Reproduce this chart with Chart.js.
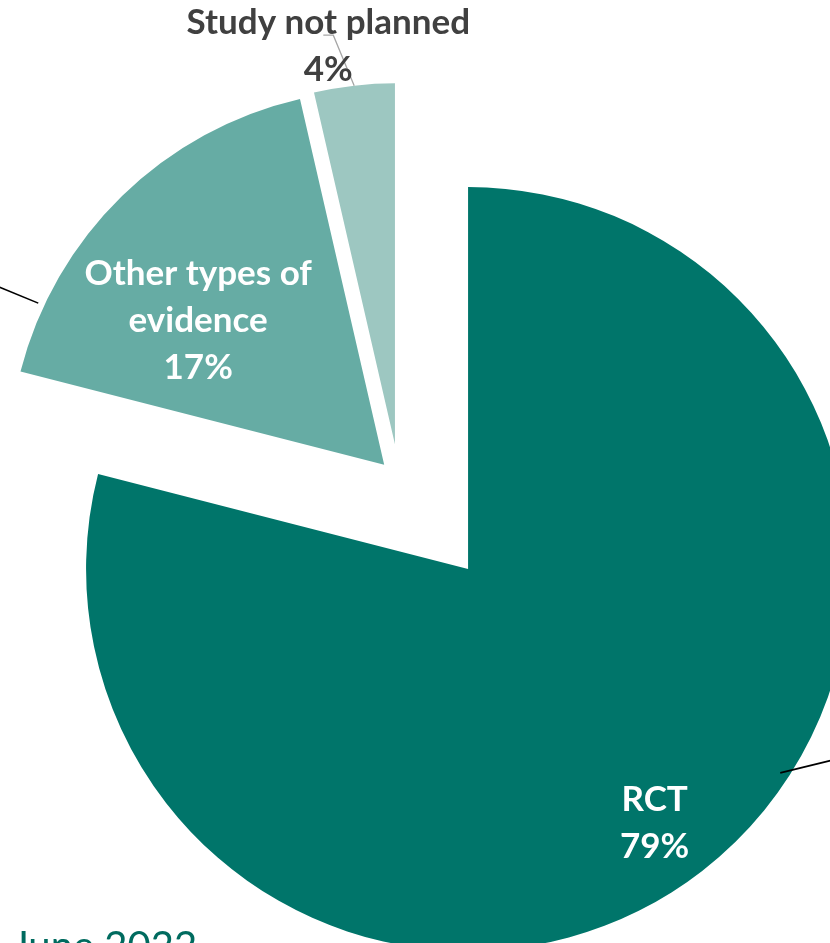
<!DOCTYPE html>
<html>
<head>
<meta charset="utf-8">
<script src="https://cdn.jsdelivr.net/npm/chart.js@4/dist/chart.umd.min.js"></script>
<style>
  html, body { margin: 0; padding: 0; background: #ffffff; overflow: hidden; width: 830px; height: 943px; }
  #wrap { position: absolute; left: 0; top: 0; width: 900px; height: 1000px; }
  #note { position: absolute; left: 12px; top: 925px; font-family: Lato, "Open Sans", sans-serif; font-size: 40px; line-height: 40px; color: #006B5F; white-space: nowrap; }
</style>
</head>
<body>
<div id="wrap"><canvas id="c" width="900" height="1000"></canvas></div>
<div id="note">June 2022</div>
<script>
// ---- data ----
const categories = ['RCT', 'Other types of evidence', 'Study not planned'];
const shares = [79.0, 17.4, 3.6];
const labelLines = [['RCT'], ['Other types of', 'evidence'], ['Study not planned']];

// ---- styling ----
const sliceColors = ['#00756A', '#66ACA4', '#9DC7C1'];
const explodeFrac = [0.295, 0.0555, 0.094];      // explosion as fraction of radius
const radiusScale = [1, 0.983, 0.945];
const labelSpots = [
  { da: 1.4,  r: 0.823, color: '#ffffff' },
  { da: -7.8, r: 0.628, color: '#ffffff' },
  { da: -3.0, r: 1.121, color: '#404040' }
];
const labelFont = 'bold 35px Lato, "Open Sans", sans-serif';
const lineH = 47;
const capH = 24;

const explodePlugin = {
  id: 'explode',
  afterDatasetsUpdate(chart) {
    const meta = chart.getDatasetMeta(0);
    meta.data.forEach((arc, i) => {
      const R = arc.outerRadius;
      const mid = (arc.startAngle + arc.endAngle) / 2;
      arc.x += Math.cos(mid) * explodeFrac[i] * R;
      arc.y += Math.sin(mid) * explodeFrac[i] * R;
      arc.outerRadius = R * radiusScale[i];
    });
  }
};

const labelPlugin = {
  id: 'sliceLabels',
  afterDatasetsDraw(chart) {
    const ctx = chart.ctx;
    const meta = chart.getDatasetMeta(0);
    const total = shares.reduce((a, b) => a + b, 0);
    const arcs = meta.data;
    ctx.save();
    // leader lines running off the picture
    ctx.strokeStyle = '#000000';
    ctx.lineWidth = 1.6;
    const offLeaders = [
      { i: 0, frac: 0.433, r: 0.976, ex: 90, ey: -22 },
      { i: 1, frac: 0.17,  r: 1.017, ex: -70, ey: -29 }
    ];
    offLeaders.forEach(l => {
      const a = arcs[l.i];
      const ang = a.startAngle + l.frac * (a.endAngle - a.startAngle);
      const x0 = a.x + Math.cos(ang) * a.outerRadius * l.r;
      const y0 = a.y + Math.sin(ang) * a.outerRadius * l.r;
      ctx.beginPath();
      ctx.moveTo(x0, y0);
      ctx.lineTo(x0 + l.ex, y0 + l.ey);
      ctx.stroke();
    });

    const centers = arcs.map((a, i) => {
      const mid = (a.startAngle + a.endAngle) / 2 + labelSpots[i].da * Math.PI / 180;
      return {
        x: a.x + Math.cos(mid) * a.outerRadius * labelSpots[i].r,
        y: a.y + Math.sin(mid) * a.outerRadius * labelSpots[i].r
      };
    });

    // leader for the small outside label
    {
      const a = arcs[2];
      const mid = (a.startAngle + a.endAngle) / 2;
      const x0 = a.x + Math.cos(mid) * a.outerRadius;
      const y0 = a.y + Math.sin(mid) * a.outerRadius;
      const c = centers[2];
      ctx.strokeStyle = '#A6A6A6';
      ctx.lineWidth = 1.3;
      ctx.beginPath();
      ctx.moveTo(x0, y0);
      ctx.lineTo(c.x + 5, c.y - 10);
      ctx.lineTo(c.x - 5, c.y - 10);
      ctx.stroke();
    }

    ctx.font = labelFont;
    ctx.textAlign = 'center';
    ctx.textBaseline = 'alphabetic';
    arcs.forEach((a, i) => {
      const lines = labelLines[i].concat([Math.round(shares[i] / total * 100) + '%']);
      const c = centers[i];
      ctx.fillStyle = labelSpots[i].color;
      const n = lines.length;
      lines.forEach((t, k) => {
        const y = c.y + (k - (n - 1) / 2) * lineH + capH / 2;
        ctx.fillText(t, c.x, y);
      });
    });
    ctx.restore();
  }
};

new Chart(document.getElementById('c'), {
  type: 'pie',
  data: {
    labels: categories,
    datasets: [{
      data: shares,
      backgroundColor: sliceColors,
      borderWidth: 0,
      offset: 0,
      hoverOffset: 0
    }]
  },
  options: {
    responsive: false,
    animation: false,
    events: [],
    layout: { padding: { left: 17, top: 98, right: 119, bottom: 138 } },
    plugins: { legend: { display: false }, tooltip: { enabled: false }, title: { display: false } }
  },
  plugins: [explodePlugin, labelPlugin]
});
</script>
</body>
</html>
